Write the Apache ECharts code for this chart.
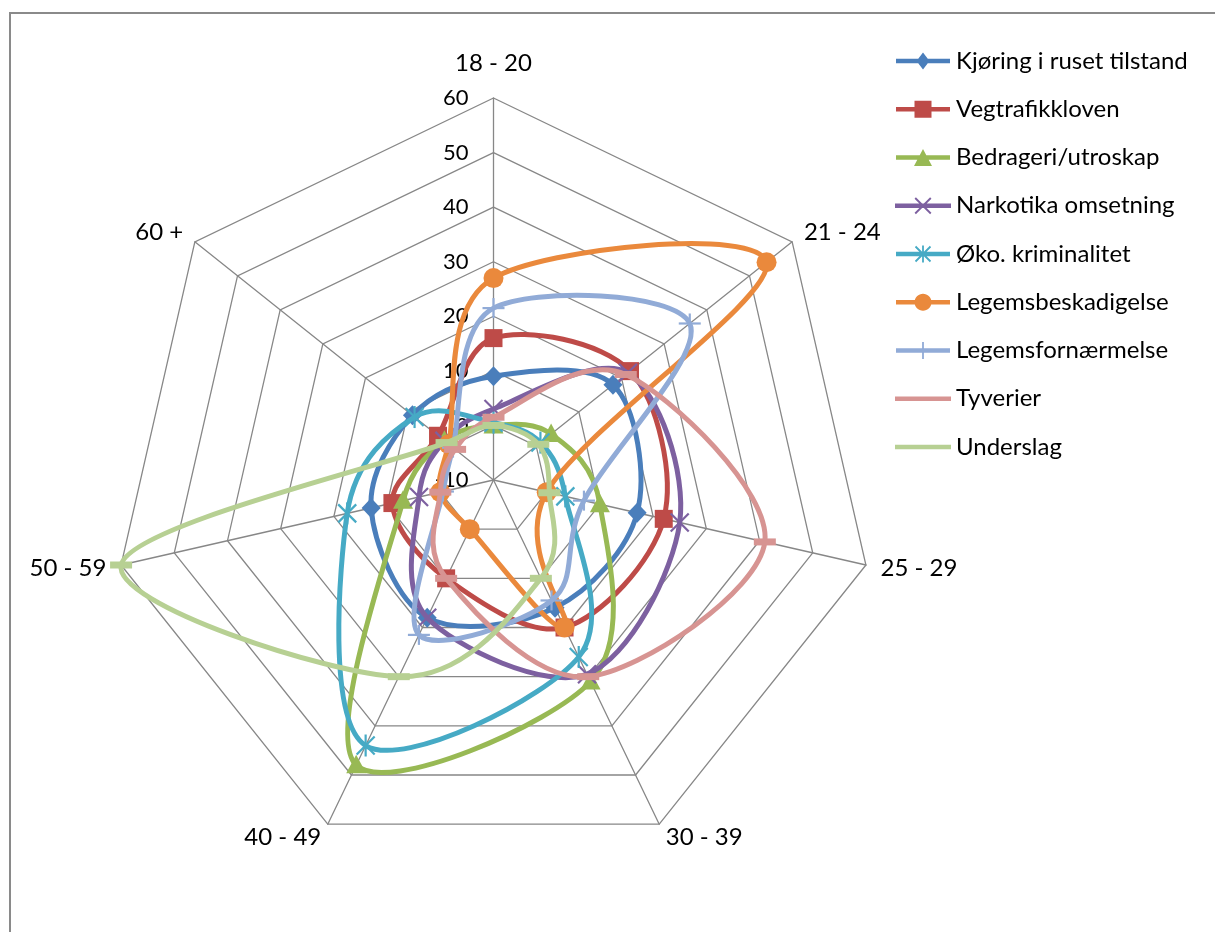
<!DOCTYPE html>
<html><head><meta charset="utf-8">
<script src="https://cdn.jsdelivr.net/npm/echarts@6/dist/echarts.min.js"></script>
<style>html,body{margin:0;padding:0;background:#fff}#c{width:1215px;height:932px}</style>
</head><body><div id="c"></div>
<script>
// ---- data ----
const categories = ['18 - 20', '21 - 24', '25 - 29', '30 - 39', '40 - 49', '50 - 59', '60 +'];
const axisMin = -10, axisMax = 60, axisStep = 10;
const seriesNames = ['Kjøring i ruset tilstand', 'Vegtrafikkloven', 'Bedrageri/utroskap', 'Narkotika omsetning',
  'Øko. kriminalitet', 'Legemsbeskadigelse', 'Legemsfornærmelse', 'Tyverier', 'Underslag'];
const kjoring     = [9, 18, 17, 16, 18, 13, 9];
const vegtrafikk  = [16, 22, 22, 20, 10, 9, 3];
const bedrageri   = [0, 3.5, 10, 31, 48, 7, 1.5];
const narkotika   = [3, 21.5, 25, 29.5, 18, 4, 1.5];
const oko         = [0.5, 1, 3.5, 26, 44, 17.5, 8.5];
const legemsbesk  = [27, 54, 0, 20, 0, 0, 0.5];
const legemsforn  = [21.5, 36, 7, 14.5, 21.5, -0.5, -0.5];
const tyverier    = [1.5, 21, 41, 30, 10, 0, -1];
const underslag   = [0, 0.5, 0.5, 10, 30, 60, 1];
const seriesValues = [kjoring, vegtrafikk, bedrageri, narkotika, oko, legemsbesk, legemsforn, tyverier, underslag];

// ---- styles ----
const colors = ['#4A7EBB', '#BE4B48', '#98B954', '#7D60A0', '#46AAC5', '#EA893C', '#91ABD7', '#D79492', '#B7D093'];
const markers = ['diamond', 'square', 'triangle', 'x', 'star', 'circle', 'plus', 'dash', 'dash'];
const FONT = 'Lato';
const CX = 493.5, CY = 480, R = 382;

function dist(a, b) { return Math.hypot(a[0] - b[0], a[1] - b[1]); }
// closed smooth curve (Excel-style bezier smoothing)
function smoothClosed(p) {
  const n = p.length;
  let d = 'M' + p[0][0] + ',' + p[0][1];
  for (let i = 0; i < n; i++) {
    const P0 = p[(i - 1 + n) % n], P1 = p[i], P2 = p[(i + 1) % n], P3 = p[(i + 2) % n];
    const d02 = dist(P0, P2), d12 = dist(P1, P2), d13 = dist(P1, P3);
    const f = (d02 / 6 < d12 / 2) ? 1 / 6 : d12 / (2 * d02);
    const g = (d13 / 6 < d12 / 2) ? 1 / 6 : d12 / (2 * d13);
    const c1 = [P1[0] + f * (P2[0] - P0[0]), P1[1] + f * (P2[1] - P0[1])];
    const c2 = [P2[0] - g * (P3[0] - P1[0]), P2[1] - g * (P3[1] - P1[1])];
    d += ' C' + c1[0] + ',' + c1[1] + ' ' + c2[0] + ',' + c2[1] + ' ' + P2[0] + ',' + P2[1];
  }
  return d + ' Z';
}
function markerEl(type, x, y, color) {
  const ln = (x1, y1, x2, y2) => ({ type: 'line', shape: { x1, y1, x2, y2 }, style: { stroke: color, lineWidth: 2.2 } });
  switch (type) {
    case 'diamond': return { type: 'polygon', shape: { points: [[x, y - 10], [x + 9.5, y], [x, y + 10], [x - 9.5, y]] }, style: { fill: color } };
    case 'square': return { type: 'rect', shape: { x: x - 9, y: y - 9, width: 18, height: 18 }, style: { fill: color } };
    case 'triangle': return { type: 'polygon', shape: { points: [[x, y - 10.5], [x + 10, y + 8], [x - 10, y + 8]] }, style: { fill: color } };
    case 'circle': return { type: 'circle', shape: { cx: x, cy: y, r: 10 }, style: { fill: color } };
    case 'x': return { type: 'group', children: [ln(x - 9, y - 9, x + 9, y + 9), ln(x - 9, y + 9, x + 9, y - 9)] };
    case 'star': return { type: 'group', children: [ln(x - 9, y - 9, x + 9, y + 9), ln(x - 9, y + 9, x + 9, y - 9), ln(x, y - 11, x, y + 11)] };
    case 'plus': return { type: 'group', children: [ln(x, y - 10, x, y + 10), ln(x - 11, y, x + 11, y)] };
    case 'dash': return { type: 'rect', shape: { x: x - 11, y: y - 3.5, width: 22, height: 7 }, style: { fill: color } };
  }
}
// legend icon paths
function poly(pts) {
  let a = 0;
  for (let i = 0; i < pts.length; i++) { const p = pts[i], q = pts[(i + 1) % pts.length]; a += p[0] * q[1] - q[0] * p[1]; }
  if (a < 0) pts = pts.slice().reverse();
  return 'M' + pts.map(p => p[0].toFixed(2) + ',' + p[1].toFixed(2)).join(' L') + ' Z';
}
function seg(x1, y1, x2, y2, w) {
  const dx = x2 - x1, dy = y2 - y1, L = Math.hypot(dx, dy), nx = -dy / L * w / 2, ny = dx / L * w / 2;
  return poly([[x1 + nx, y1 + ny], [x2 + nx, y2 + ny], [x2 - nx, y2 - ny], [x1 - nx, y1 - ny]]);
}
function legendIcon(type) {
  const mx = 28, my = 8.5;
  let d = seg(1, my, 55, my, 4.5);
  if (type === 'diamond') d += ' ' + poly([[mx, 0], [mx + 6.5, my], [mx, 17], [mx - 6.5, my]]);
  if (type === 'square') d += ' ' + poly([[mx - 8.5, 0], [mx + 8.5, 0], [mx + 8.5, 17], [mx - 8.5, 17]]);
  if (type === 'triangle') d += ' ' + poly([[mx, 0], [mx + 9, 17], [mx - 9, 17]]);
  if (type === 'circle') { const c = []; for (let k = 0; k < 32; k++) { const t = k / 32 * Math.PI * 2; c.push([mx + 8.5 * Math.cos(t), my + 8.5 * Math.sin(t)]); } d += ' ' + poly(c); }
  if (type === 'x' || type === 'star') { d += ' ' + seg(mx - 7.5, my - 7.5, mx + 7.5, my + 7.5, 1.8) + ' ' + seg(mx - 7.5, my + 7.5, mx + 7.5, my - 7.5, 1.8); }
  if (type === 'star') d += ' ' + seg(mx, my - 8.5, mx, my + 8.5, 1.8);
  if (type === 'plus') d += ' ' + seg(mx, 0, mx, 17, 1.8);
  return 'path://' + d;
}

const radarOrder = [categories[0]].concat(categories.slice(1).reverse());

const option = {
  animation: false,
  textStyle: { fontFamily: FONT },
  graphic: [{ type: 'rect', silent: true, z: 0, shape: { x: 10, y: 13, width: 1400, height: 1100 }, style: { fill: 'none', stroke: '#8a8a8a', lineWidth: 2 } }],
  radar: {
    center: [CX, CY], radius: R, startAngle: 90, shape: 'polygon', splitNumber: (axisMax - axisMin) / axisStep,
    indicator: radarOrder.map(n => ({ name: n, min: axisMin, max: axisMax })),
    axisName: {
      color: '#000', fontSize: 24, fontFamily: FONT,
      formatter: n => n === categories[0] ? '{t|' + n + '}' : n,
      rich: { t: { fontSize: 24, fontFamily: FONT, color: '#000', padding: [0, 0, 8, 0] } }
    },
    nameGap: 15,
    axisLine: { lineStyle: { color: '#878787', width: 1.3 } },
    splitLine: { lineStyle: { color: '#878787', width: 1.3 } },
    splitArea: { show: false },
    axisTick: { show: false }, axisLabel: { show: false }
  },
  polar: { center: [CX, CY], radius: [0, R] },
  angleAxis: { type: 'value', min: 0, max: categories.length, startAngle: 90, clockwise: true, show: false },
  radiusAxis: {
    type: 'value', min: axisMin, max: axisMax, interval: axisStep,
    axisLine: { show: false }, axisTick: { show: false }, splitLine: { show: false },
    axisLabel: { show: true, inside: true, color: '#000', fontSize: 22, fontFamily: FONT, margin: 25 }
  },
  legend: {
    orient: 'vertical', left: 890, top: 44, itemWidth: 56, itemHeight: 17, itemGap: 24.25, selectedMode: false,
    textStyle: { fontSize: 24, color: '#000', fontFamily: FONT },
    data: seriesNames.map((n, i) => ({ name: n, icon: legendIcon(markers[i]) }))
  },
  series: seriesNames.map((name, si) => ({
    type: 'custom', name, coordinateSystem: 'polar', silent: true,
    encode: { radius: 0, angle: 1 },
    itemStyle: { color: colors[si] },
    data: seriesValues[si].map((v, i) => [v, i]),
    renderItem: function (params, api) {
      const pts = seriesValues[si].map((v, i) => api.coord([v, i]));
      const idx = params.dataIndex;
      const children = [];
      if (idx === 0) {
        children.push({ type: 'path', shape: { pathData: smoothClosed(pts) },
          style: { fill: 'none', stroke: colors[si], lineWidth: 5, lineJoin: 'round' } });
      }
      children.push(markerEl(markers[si], pts[idx][0], pts[idx][1], colors[si]));
      return { type: 'group', children };
    }
  }))
};
const chart = echarts.init(document.getElementById('c'));
chart.setOption(option);
</script></body></html>
